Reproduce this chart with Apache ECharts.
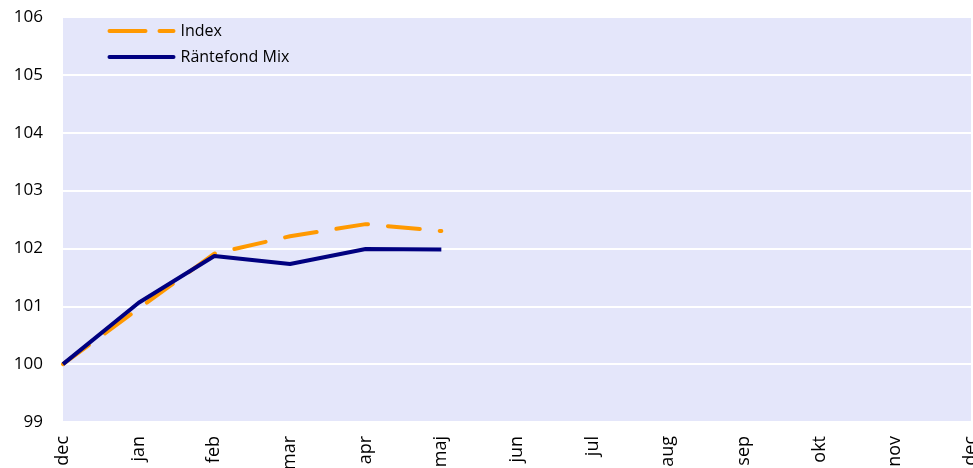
<!DOCTYPE html>
<html>
<head>
<meta charset="utf-8">
<script src="https://cdn.jsdelivr.net/npm/echarts@6/dist/echarts.min.js"></script>
<style>
  html, body { margin: 0; padding: 0; background: #ffffff; }
  #chart { width: 973px; height: 468px; }
</style>
</head>
<body>
<div id="chart"></div>
<script>
// Month labels along the x axis (Swedish)
const months = ['dec', 'jan', 'feb', 'mar', 'apr', 'maj', 'jun', 'jul', 'aug', 'sep', 'okt', 'nov', 'dec'];
// Indexed development, start = 100
const indexValues = [100, 100.96, 101.91, 102.21, 102.42, 102.30];
const fundValues = [100, 101.06, 101.87, 101.73, 101.99, 101.98];
const seriesNames = ['Index', 'Räntefond Mix'];
const seriesColors = ['#FF9900', '#000080'];

const chart = echarts.init(document.getElementById('chart'), null, { renderer: 'canvas' });
const font = '"Open Sans", "Noto Sans", sans-serif';
const indexDash = [32, 20];

// Legend keys: a dashed and a solid line sample with the series names
function legendEntry(top, name, color, dash) {
  return {
    type: 'group', left: 107, top: top,
    children: [
      {
        type: 'line',
        shape: { x1: 2, y1: 8, x2: 66, y2: 8 },
        style: { stroke: color, lineWidth: 4, lineDash: dash, lineCap: 'round' }
      },
      {
        type: 'text', x: 73, y: 8,
        style: { text: name, fill: '#000000', font: '16px ' + font, verticalAlign: 'middle' }
      }
    ]
  };
}

chart.setOption({
  animation: false,
  backgroundColor: '#ffffff',
  grid: {
    left: 63, right: 2, top: 17, bottom: 46,
    outerBoundsMode: 'none',
    containLabel: false,
    show: true, backgroundColor: '#E4E6FA', borderWidth: 0
  },
  graphic: [
    legendEntry(23, seriesNames[0], seriesColors[0], [36, 14]),
    legendEntry(49, seriesNames[1], seriesColors[1], null)
  ],
  xAxis: {
    type: 'category',
    data: months,
    boundaryGap: false,
    axisLine: { show: false },
    axisTick: { show: false },
    splitLine: { show: false },
    axisLabel: {
      rotate: 90, margin: 14, interval: 0,
      fontFamily: font, fontSize: 18, color: '#000000'
    }
  },
  yAxis: {
    type: 'value',
    min: 99, max: 106, interval: 1,
    axisLine: { show: false },
    axisTick: { show: false },
    splitLine: { show: true, lineStyle: { color: '#ffffff', width: 2 } },
    axisLabel: { margin: 20, fontFamily: font, fontSize: 17, color: '#000000' }
  },
  series: [
    {
      name: seriesNames[0],
      type: 'line',
      data: indexValues,
      symbol: 'none',
      color: seriesColors[0],
      lineStyle: { color: seriesColors[0], width: 4, type: indexDash, cap: 'round' },
      z: 2
    },
    {
      name: seriesNames[1],
      type: 'line',
      data: fundValues,
      symbol: 'none',
      color: seriesColors[1],
      lineStyle: { color: seriesColors[1], width: 4 },
      z: 3
    }
  ]
});
</script>
</body>
</html>
